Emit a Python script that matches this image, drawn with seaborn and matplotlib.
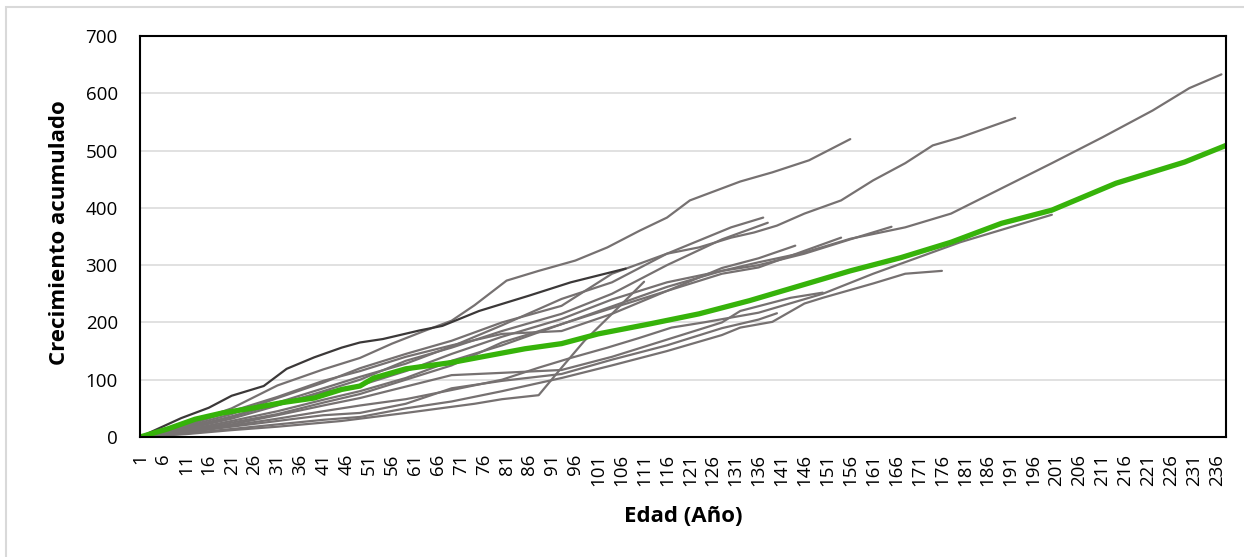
import matplotlib
matplotlib.use("Agg")
import matplotlib.pyplot as plt
from matplotlib.patches import Rectangle
import pandas as pd
import seaborn as sns

# Crecimiento radial acumulado por árbol (edad en años, crecimiento acumulado)
arbol_a_edad = [1, 11, 21, 31, 41, 49, 59, 69, 80, 93, 104, 116, 128, 136, 146, 156, 168, 178, 189, 200, 211, 222, 230, 237]
arbol_a_crec = [0, 12, 28, 45, 65, 80, 103, 133, 160, 197, 228, 262, 290, 305, 322, 346, 366, 390, 434, 478, 523, 570, 609, 633]

arbol_b_edad = [1, 11, 21, 31, 41, 49, 59, 69, 80, 93, 104, 116, 123, 130, 135, 140, 146, 154, 161, 168, 174, 180, 192]
arbol_b_crec = [0, 15, 35, 60, 85, 105, 128, 158, 195, 241, 270, 320, 331, 348, 357, 369, 390, 413, 448, 478, 509, 523, 557]

arbol_c_edad = [1, 11, 21, 31, 41, 49, 56, 63, 69, 74, 81, 88, 96, 103, 110, 116, 121, 132, 139, 147, 156]
arbol_c_crec = [0, 22, 50, 90, 118, 138, 163, 185, 203, 230, 273, 290, 308, 331, 360, 383, 413, 446, 462, 483, 520]

arbol_d_edad = [1, 11, 21, 31, 41, 49, 59, 69, 80, 88, 95, 103, 110, 117, 124, 136, 150, 161, 180, 200]
arbol_d_crec = [0, 8, 20, 32, 45, 55, 66, 82, 100, 121, 138, 156, 173, 191, 200, 217, 250, 285, 340, 388]

arbol_e_edad = [1, 11, 21, 31, 41, 49, 59, 69, 80, 93, 104, 116, 128, 132, 139, 146, 150, 161, 168, 176]
arbol_e_crec = [0, 6, 14, 22, 30, 35, 50, 62, 80, 103, 125, 150, 178, 191, 201, 233, 243, 268, 285, 290]

arbol_f_edad = [1, 11, 21, 31, 41, 49, 59, 69, 80, 93, 104, 116, 128, 136, 146, 156, 165]
arbol_f_crec = [0, 16, 36, 58, 78, 90, 115, 145, 175, 206, 240, 270, 290, 300, 320, 345, 367]

arbol_g_edad = [1, 11, 21, 31, 41, 49, 59, 69, 80, 93, 104, 116, 123, 130, 137]
arbol_g_crec = [0, 18, 40, 68, 95, 120, 145, 168, 200, 229, 285, 320, 343, 366, 383]

arbol_h_edad = [1, 11, 21, 31, 41, 49, 59, 69, 80, 93, 104, 116, 128, 138]
arbol_h_crec = [0, 14, 32, 55, 80, 100, 133, 156, 185, 215, 250, 300, 345, 374]

arbol_i_edad = [1, 11, 21, 31, 41, 49, 59, 69, 80, 93, 104, 116, 128, 136, 146, 154]
arbol_i_crec = [0, 10, 25, 40, 60, 75, 100, 125, 165, 197, 225, 255, 285, 296, 325, 348]

arbol_j_edad = [1, 11, 21, 31, 41, 49, 59, 69, 80, 93, 104, 116, 128, 136, 144]
arbol_j_crec = [0, 20, 45, 70, 98, 115, 140, 160, 180, 185, 215, 255, 295, 312, 334]

arbol_k_edad = [1, 10, 16, 21, 28, 33, 39, 45, 49, 54, 62, 67, 75, 86, 95, 107]
arbol_k_crec = [0, 33, 51, 72, 89, 119, 139, 156, 165, 171, 186, 194, 220, 247, 270, 294]

arbol_l_edad = [1, 11, 21, 31, 45, 59, 74, 80, 88, 93, 98, 104, 111]
arbol_l_crec = [0, 5, 12, 18, 28, 42, 58, 66, 73, 121, 168, 215, 271]

arbol_m_edad = [1, 11, 21, 31, 41, 49, 59, 69, 80, 93, 104, 116, 128, 132, 143, 150]
arbol_m_crec = [0, 10, 22, 38, 55, 68, 88, 108, 112, 117, 140, 170, 200, 220, 243, 252]

arbol_n_edad = [1, 11, 21, 31, 41, 49, 59, 69, 80, 93, 104, 116, 128, 136, 140]
arbol_n_crec = [0, 8, 18, 28, 38, 42, 58, 85, 98, 110, 135, 160, 190, 205, 216]

# Curva media de crecimiento acumulado
media_edad = [1, 7, 13, 19, 26, 32, 39, 45, 49, 52, 59, 69, 77, 85, 93, 101, 112, 123, 134, 145, 156, 167, 178, 189, 200, 214, 229, 238]
media_crec = [0, 14, 31, 42, 51, 60, 68, 83, 89, 103, 119, 130, 142, 154, 163, 180, 197, 215, 238, 264, 290, 313, 340, 373, 396, 443, 480, 509]

arboles = {
    "A": (arbol_a_edad, arbol_a_crec), "B": (arbol_b_edad, arbol_b_crec),
    "C": (arbol_c_edad, arbol_c_crec), "D": (arbol_d_edad, arbol_d_crec),
    "E": (arbol_e_edad, arbol_e_crec), "F": (arbol_f_edad, arbol_f_crec),
    "G": (arbol_g_edad, arbol_g_crec), "H": (arbol_h_edad, arbol_h_crec),
    "I": (arbol_i_edad, arbol_i_crec), "J": (arbol_j_edad, arbol_j_crec),
    "L": (arbol_l_edad, arbol_l_crec), "M": (arbol_m_edad, arbol_m_crec),
    "N": (arbol_n_edad, arbol_n_crec), "K": (arbol_k_edad, arbol_k_crec),
}

filas = []
for nombre, (edades, valores) in arboles.items():
    for e, v in zip(edades, valores):
        filas.append({"arbol": nombre, "edad": e, "crec": v})
df = pd.DataFrame(filas)
df_media = pd.DataFrame({"edad": media_edad, "crec": media_crec})

GRIS = "#767171"
OSCURO = "#3b3838"
VERDE = "#36b30a"
paleta = {n: (OSCURO if n == "K" else GRIS) for n in arboles}

sns.set_theme(style="white")
plt.rcParams["font.family"] = ["Open Sans", "DejaVu Sans"]

fig = plt.figure(figsize=(12.44, 5.57), dpi=100)
ax = fig.add_axes([140 / 1244, 1 - 437 / 557, (1226 - 140) / 1244, (437 - 36) / 557])

sns.lineplot(data=df, x="edad", y="crec", hue="arbol", units="arbol", estimator=None,
             palette=paleta, linewidth=1.6, legend=False, ax=ax, sort=False)
sns.lineplot(data=df_media, x="edad", y="crec", color=VERDE, linewidth=3.8,
             legend=False, ax=ax, sort=False)

ax.set_xlim(1, 238)
ax.set_ylim(0, 700)
ax.set_yticks(range(0, 701, 100))
ax.set_xticks(range(1, 237, 5))
ax.set_xticklabels([str(t) for t in range(1, 237, 5)], rotation=90)
ax.grid(axis="y", color="#d9d9d9", linewidth=1.1)
ax.grid(axis="x", visible=False)
ax.set_axisbelow(True)
for s in ax.spines.values():
    s.set_visible(True)
    s.set_color("black")
    s.set_linewidth(1.5)
ax.tick_params(axis="both", direction="in", length=5, width=1.2, colors="black",
               labelsize=13.5, labelcolor="black")
ax.tick_params(axis="x", pad=12)
ax.tick_params(axis="y", pad=16)
ax.set_xlabel("")
ax.set_ylabel("")

fig.text(683 / 1244, 1 - 517 / 557, "Edad (Año)", ha="center", va="center",
         fontsize=16, fontweight="bold", color="black")
fig.text(60 / 1244, 1 - 233 / 557, "Crecimiento acumulado", ha="center", va="center",
         rotation=90, fontsize=16, fontweight="bold", color="black")

fig.patches.append(Rectangle((6 / 1244, -0.1), 1.2, 1 - 7 / 557 + 0.1,
                             transform=fig.transFigure, fill=False,
                             edgecolor="#d9d9d9", linewidth=1.5))

fig.savefig("out.png", dpi=100)
